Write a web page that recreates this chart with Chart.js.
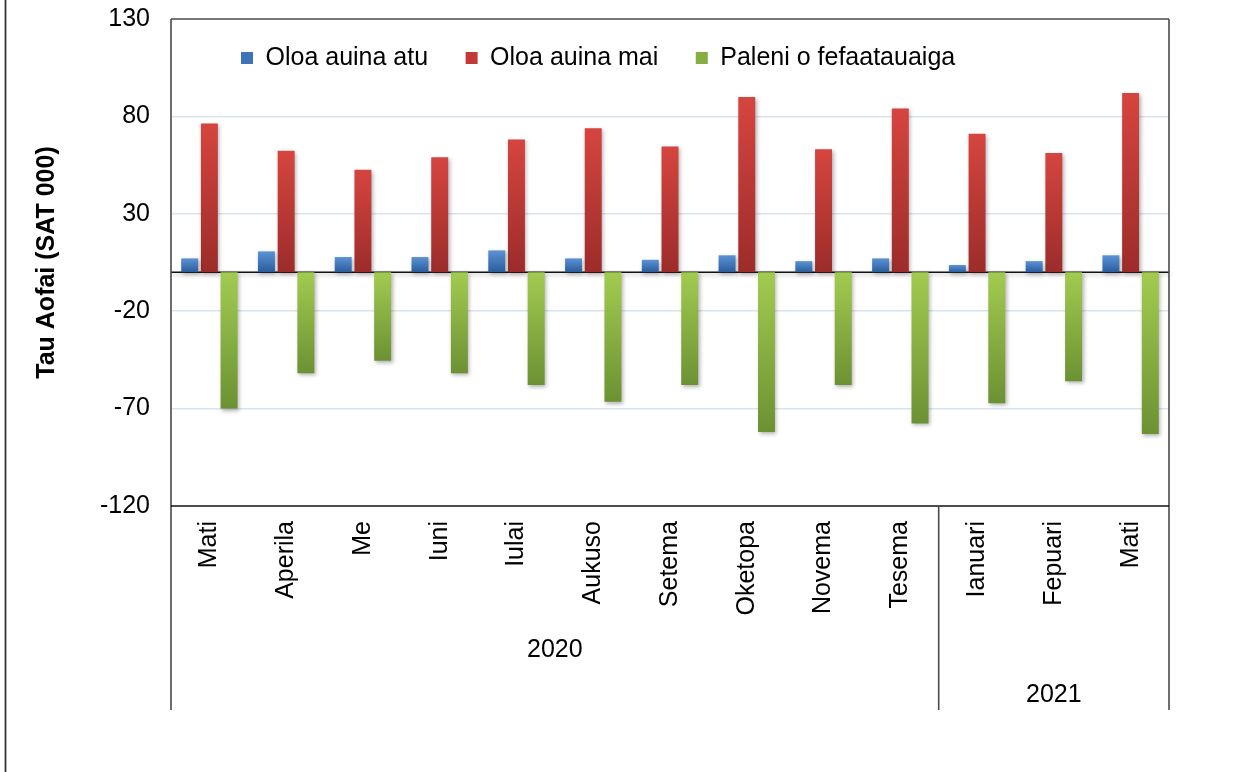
<!DOCTYPE html>
<html>
<head>
<meta charset="utf-8">
<script src="https://cdn.jsdelivr.net/npm/chart.js@4.4.1/dist/chart.umd.min.js"></script>
<style>
  html, body { margin: 0; padding: 0; background: #ffffff; }
  #wrap { position: relative; width: 1238px; height: 772px; }
</style>
</head>
<body>
<div id="wrap"><canvas id="c"></canvas></div>
<script>
// ---- data ----
const categories = ['Mati', 'Aperila', 'Me', 'Iuni', 'Iulai', 'Aukuso', 'Setema', 'Oketopa', 'Novema', 'Tesema', 'Ianuari', 'Fepuari', 'Mati'];
const groupLabels = ['2020', '2021'];
const groupSizes = [10, 3];
const seriesNames = ['Oloa auina atu', 'Oloa auina mai', 'Paleni o fefaatauaiga'];
const exportsVals = [7.1, 10.7, 7.8, 7.8, 11.2, 7.1, 6.4, 8.7, 5.7, 7.1, 3.7, 5.7, 8.7];
const importsVals = [76.4, 62.4, 52.6, 59.0, 68.2, 73.9, 64.6, 89.9, 63.2, 84.1, 71.1, 61.2, 92.0];
const balanceVals = [-70.0, -51.9, -45.4, -51.9, -57.9, -66.5, -57.9, -82.0, -57.9, -77.6, -67.3, -55.9, -83.1];
const yTicks = [-120, -70, -20, 30, 80, 130];
const yTitle = 'Tau Aofai (SAT 000)';

// ---- styles ----
const FONT = "'Liberation Sans', Arial, sans-serif";
const palettes = [
  { top: '#5a93d6', bottom: '#2b5c9c', solid: '#3c73b9' },
  { top: '#d6453f', bottom: '#9c2c2a', solid: '#c23a37' },
  { top: '#a2cb50', bottom: '#6c9133', solid: '#86ae40' }
];

function gradientFill(pal) {
  return function (ctx) {
    const chart = ctx.chart;
    if (ctx.type !== 'data' || !chart.chartArea || !chart.scales.y) return pal.solid;
    const y = chart.scales.y;
    const v = ctx.raw;
    const yTop = y.getPixelForValue(Math.max(v, 0));
    const yBot = y.getPixelForValue(Math.min(v, 0));
    if (!isFinite(yTop) || !isFinite(yBot) || yTop === yBot) return pal.solid;
    const g = chart.ctx.createLinearGradient(0, yTop, 0, yBot);
    g.addColorStop(0, pal.top);
    g.addColorStop(1, pal.bottom);
    return g;
  };
}

const seriesValues = [exportsVals, importsVals, balanceVals];

const datasets = seriesValues.map((vals, i) => ({
  label: seriesNames[i],
  data: vals,
  backgroundColor: gradientFill(palettes[i]),
  borderWidth: 0,
  categoryPercentage: 0.77,
  barPercentage: 0.86
}));

// Legend placed inside the plot area (no layout space taken)
const legendInside = {
  id: 'legendInside',
  beforeInit(chart) {
    const lg = chart.legend;
    if (!lg) return;
    const origFit = lg.fit;
    lg.fit = function () { origFit.call(this); this.height = 0; };
  },
  beforeDraw(chart) {
    const lg = chart.legend;
    if (!lg) return;
    const pad = lg.options.labels.padding;
    const fs = lg.options.labels.font.size;
    lg.left = 241 - pad;
    lg.right = chart.width;
    lg.top = 58 - pad - fs / 2;
    lg.bottom = lg.top + 200;
  }
};

// Shadows under bars
const barShadow = {
  id: 'barShadow',
  beforeDatasetsDraw(chart) {
    const ctx = chart.ctx;
    ctx.save();
    ctx.shadowColor = 'rgba(0,0,0,0.30)';
    ctx.shadowBlur = 4;
    ctx.shadowOffsetX = 1.5;
    ctx.shadowOffsetY = 2;
  },
  afterDatasetsDraw(chart) {
    chart.ctx.restore();
  }
};

// Frame, zero line and year groups
const frameAndGroups = {
  id: 'frameAndGroups',
  beforeDatasetsDraw(chart) {
    const { ctx, chartArea: a, scales: { y } } = chart;
    const y0 = y.getPixelForValue(0);
    ctx.save();
    ctx.strokeStyle = '#111111';
    ctx.lineWidth = 1.6;
    ctx.beginPath();
    ctx.moveTo(a.left, y0);
    ctx.lineTo(a.right, y0);
    ctx.stroke();
    ctx.restore();
  },
  afterDraw(chart) {
    const { ctx, chartArea: a, scales: { x } } = chart;
    const lowY = 710;
    const half = (x.getPixelForValue(1) - x.getPixelForValue(0)) / 2;
    ctx.save();
    ctx.lineWidth = 1.6;
    ctx.strokeStyle = '#4a4a4a';
    ctx.beginPath();
    ctx.moveTo(a.left, a.top); ctx.lineTo(a.right, a.top);
    ctx.moveTo(a.left, a.top); ctx.lineTo(a.left, lowY);
    ctx.moveTo(a.right, a.top); ctx.lineTo(a.right, lowY);
    ctx.stroke();
    ctx.strokeStyle = '#111111';
    ctx.beginPath();
    ctx.moveTo(a.left, a.bottom); ctx.lineTo(a.right, a.bottom);
    ctx.stroke();
    ctx.strokeStyle = '#333333';
    ctx.lineWidth = 1.8;
    ctx.beginPath();
    ctx.moveTo(5.5, 0); ctx.lineTo(5.5, chart.height);
    ctx.stroke();
    const labelY = [650, 695];
    ctx.font = '25px ' + FONT;
    ctx.fillStyle = '#000000';
    ctx.textAlign = 'center';
    ctx.textBaseline = 'middle';
    ctx.strokeStyle = '#4a4a4a';
    ctx.lineWidth = 1.6;
    let idx = 0;
    groupSizes.forEach((n, g) => {
      const x0 = x.getPixelForValue(idx) - half;
      const x1 = x.getPixelForValue(idx + n - 1) + half;
      ctx.fillText(groupLabels[g], (x0 + x1) / 2, labelY[g]);
      if (g > 0) {
        ctx.beginPath();
        ctx.moveTo(x0, a.bottom);
        ctx.lineTo(x0, lowY);
        ctx.stroke();
      }
      idx += n;
    });
    ctx.restore();
  }
};

new Chart(document.getElementById('c'), {
  type: 'bar',
  data: { labels: categories, datasets: datasets },
  plugins: [legendInside, barShadow, frameAndGroups],
  options: {
    responsive: true,
    maintainAspectRatio: false,
    animation: false,
    layout: { padding: { left: 0, top: 19, right: 69, bottom: 0 } },
    plugins: {
      tooltip: { enabled: false },
      legend: {
        display: true,
        position: 'top',
        align: 'start',
        labels: {
          font: { family: FONT, size: 25 },
          color: '#000000',
          boxWidth: 12,
          boxHeight: 12,
          padding: 37.5,
          generateLabels(chart) {
            return chart.data.datasets.map((ds, i) => ({
              text: ds.label,
              fillStyle: palettes[i].solid,
              strokeStyle: palettes[i].solid,
              lineWidth: 0,
              hidden: false,
              datasetIndex: i
            }));
          }
        }
      }
    },
    scales: {
      x: {
        grid: { display: false, drawTicks: false },
        border: { display: false },
        ticks: {
          autoSkip: false,
          maxRotation: 90,
          minRotation: 90,
          padding: 15,
          color: '#000000',
          font: { family: FONT, size: 25 }
        },
        afterFit(scale) { scale.height = 772 - 506; }
      },
      y: {
        min: -120,
        max: 130,
        afterBuildTicks(scale) { scale.ticks = yTicks.map(v => ({ value: v })); },
        grid: {
          drawTicks: false,
          lineWidth: 1.5,
          color(ctx) {
            const v = ctx.tick && ctx.tick.value;
            return (v === -120 || v === 130) ? 'rgba(0,0,0,0)' : '#d9e4f1';
          }
        },
        border: { display: false },
        ticks: {
          padding: 21,
          color: '#000000',
          font: { family: FONT, size: 25 }
        },
        title: {
          display: true,
          text: yTitle,
          color: '#000000',
          font: { family: FONT, size: 25, weight: 'bold' },
          padding: { top: 32, bottom: 0 }
        },
        afterFit(scale) {
          scale.width = 171;
          scale.paddingTop = 0;
          scale.paddingBottom = 0;
        }
      }
    }
  }
});
</script>
</body>
</html>
